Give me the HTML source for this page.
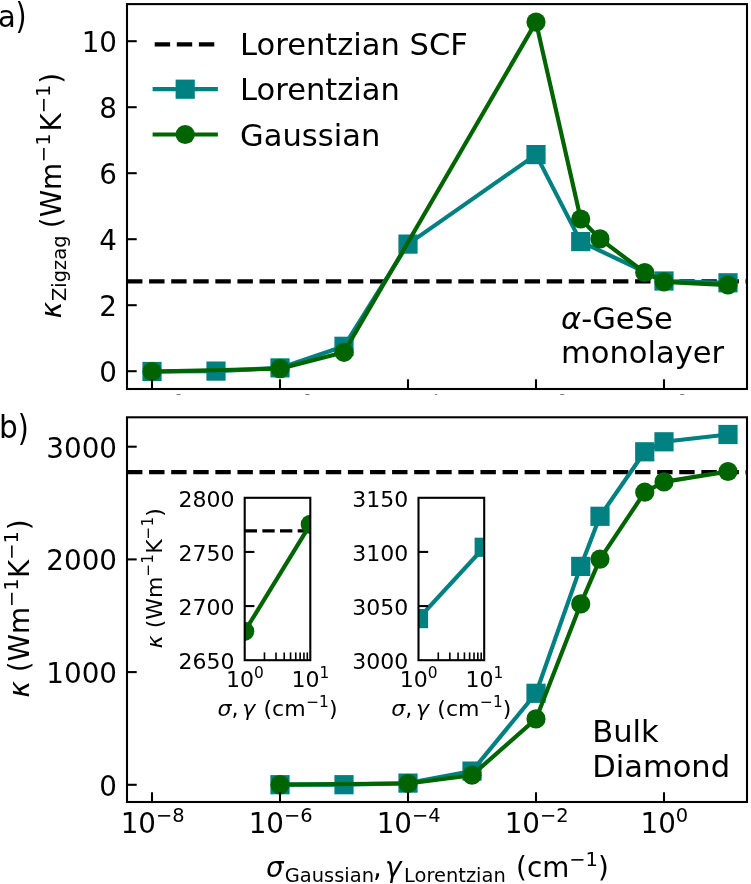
<!DOCTYPE html>
<html><head><meta charset="utf-8"><title>Thermal conductivity vs smearing</title>
<style>html,body{margin:0;padding:0;background:#fff}svg{display:block}</style></head>
<body>
<svg width="751" height="884" viewBox="0 0 751 884" font-family="'DejaVu Sans', 'Liberation Sans', sans-serif" fill="#000">
<rect width="751" height="884" fill="#fff"/>
<defs>
<clipPath id="c1"><rect x="127.0" y="4.1" width="620.0" height="384.9"/></clipPath>
<clipPath id="c2"><rect x="127.0" y="417.3" width="620.0" height="384.7"/></clipPath>
</defs>
<rect x="176.6" y="394" width="4" height="1" fill="#777"/>
<rect x="305.4" y="394" width="4" height="1" fill="#777"/>
<rect x="435.2" y="394" width="2" height="1" fill="#777"/>
<rect x="560.2" y="394" width="4" height="1" fill="#777"/>
<rect x="680.2" y="394" width="4" height="1" fill="#777"/>
<g clip-path="url(#c1)">
<line x1="127.0" y1="281.3" x2="747.0" y2="281.3" stroke="#000" stroke-width="4.17" stroke-dasharray="15.42 6.67" />
<polyline points="152.00,371.50 216.00,371.10 280.00,367.90 344.00,346.30 408.00,244.10 536.00,154.60 580.73,241.60 664.00,281.00 728.00,282.80" fill="none" stroke="#008080" stroke-width="4.17" stroke-linejoin="round" stroke-linecap="square" />
<rect x="142.40" y="361.90" width="19.20" height="19.20" fill="#008080"/>
<rect x="206.40" y="361.50" width="19.20" height="19.20" fill="#008080"/>
<rect x="270.40" y="358.30" width="19.20" height="19.20" fill="#008080"/>
<rect x="334.40" y="336.70" width="19.20" height="19.20" fill="#008080"/>
<rect x="398.40" y="234.50" width="19.20" height="19.20" fill="#008080"/>
<rect x="526.40" y="145.00" width="19.20" height="19.20" fill="#008080"/>
<rect x="571.13" y="232.00" width="19.20" height="19.20" fill="#008080"/>
<rect x="654.40" y="271.40" width="19.20" height="19.20" fill="#008080"/>
<rect x="718.40" y="273.20" width="19.20" height="19.20" fill="#008080"/>
<polyline points="152.00,371.50 280.00,368.70 344.00,352.30 536.00,22.10 580.73,219.00 600.00,238.90 644.73,272.50 664.00,281.80 728.00,285.00" fill="none" stroke="#006400" stroke-width="4.17" stroke-linejoin="round" stroke-linecap="square" />
<circle cx="152.00" cy="371.50" r="9.60" fill="#006400"/>
<circle cx="280.00" cy="368.70" r="9.60" fill="#006400"/>
<circle cx="344.00" cy="352.30" r="9.60" fill="#006400"/>
<circle cx="536.00" cy="22.10" r="9.60" fill="#006400"/>
<circle cx="580.73" cy="219.00" r="9.60" fill="#006400"/>
<circle cx="600.00" cy="238.90" r="9.60" fill="#006400"/>
<circle cx="644.73" cy="272.50" r="9.60" fill="#006400"/>
<circle cx="664.00" cy="281.80" r="9.60" fill="#006400"/>
<circle cx="728.00" cy="285.00" r="9.60" fill="#006400"/>
</g>
<line x1="152.0" y1="389.0" x2="152.0" y2="379.3" stroke="#000" stroke-width="2.08"/>
<line x1="280.0" y1="389.0" x2="280.0" y2="379.3" stroke="#000" stroke-width="2.08"/>
<line x1="408.0" y1="389.0" x2="408.0" y2="379.3" stroke="#000" stroke-width="2.08"/>
<line x1="536.0" y1="389.0" x2="536.0" y2="379.3" stroke="#000" stroke-width="2.08"/>
<line x1="664.0" y1="389.0" x2="664.0" y2="379.3" stroke="#000" stroke-width="2.08"/>
<line x1="127.0" y1="371.20" x2="136.7" y2="371.20" stroke="#000" stroke-width="2.08"/>
<text x="117" y="382.20" font-size="27.78" text-anchor="end">0</text>
<line x1="127.0" y1="305.20" x2="136.7" y2="305.20" stroke="#000" stroke-width="2.08"/>
<text x="117" y="316.20" font-size="27.78" text-anchor="end">2</text>
<line x1="127.0" y1="239.20" x2="136.7" y2="239.20" stroke="#000" stroke-width="2.08"/>
<text x="117" y="250.20" font-size="27.78" text-anchor="end">4</text>
<line x1="127.0" y1="173.20" x2="136.7" y2="173.20" stroke="#000" stroke-width="2.08"/>
<text x="117" y="184.20" font-size="27.78" text-anchor="end">6</text>
<line x1="127.0" y1="107.20" x2="136.7" y2="107.20" stroke="#000" stroke-width="2.08"/>
<text x="117" y="118.20" font-size="27.78" text-anchor="end">8</text>
<line x1="127.0" y1="41.20" x2="136.7" y2="41.20" stroke="#000" stroke-width="2.08"/>
<text x="117" y="52.20" font-size="27.78" text-anchor="end">10</text>
<rect x="127.0" y="4.1" width="620.0" height="384.9" fill="none" stroke="#000" stroke-width="2.08"/>
<line x1="154.7" y1="44.3" x2="215.8" y2="44.3" stroke="#000" stroke-width="4.17" stroke-dasharray="15.42 6.67"/>
<line x1="154.7" y1="89.2" x2="215.8" y2="89.2" stroke="#008080" stroke-width="4.17" stroke-linecap="square"/>
<rect x="175.60" y="79.60" width="19.20" height="19.20" fill="#008080"/>
<line x1="154.7" y1="134.5" x2="215.8" y2="134.5" stroke="#006400" stroke-width="4.17" stroke-linecap="square"/>
<circle cx="185.20" cy="134.50" r="9.60" fill="#006400"/>
<text x="240.1" y="55.3" font-size="30.56">Lorentzian SCF</text>
<text x="240.1" y="100.3" font-size="30.56">Lorentzian</text>
<text x="240.1" y="145.6" font-size="30.56">Gaussian</text>
<text x="561" y="328.6" font-size="30.56"><tspan font-style="italic">α</tspan>-GeSe</text>
<text x="561" y="362.8" font-size="30.56">monolayer</text>
<text transform="translate(-2.0,26.8) scale(0.95,1)" font-size="30.56">a</text>
<text transform="translate(15.6,28.45) scale(0.93,1.155)" font-size="30.56">)</text>
<text transform="translate(-0.9,437.8) scale(0.97,1.04)" font-size="30.56">b</text>
<text transform="translate(17.7,439.9) scale(0.93,1.155)" font-size="30.56">)</text>
<text transform="translate(61.3,318.2) rotate(-90)" font-size="27.78"><tspan font-style="italic">κ</tspan><tspan font-size="19.45" dy="4.5" dx="0.8">Zigzag</tspan><tspan dy="-4.5" dx="-1.5"> (Wm</tspan><tspan font-size="19.45" dy="-11.4" dx="0.7">−1</tspan><tspan dy="11.4" dx="2">K</tspan><tspan font-size="19.45" dy="-11.4">−1</tspan><tspan dy="11.4" dx="0.8">)</tspan></text>
<g clip-path="url(#c2)">
<line x1="127.0" y1="472.2" x2="747.0" y2="472.2" stroke="#000" stroke-width="4.17" stroke-dasharray="15.42 6.67" />
<polyline points="280.00,784.70 344.00,784.70 408.00,783.10 472.00,771.10 536.00,693.30 580.73,566.40 600.00,516.30 644.73,451.80 664.00,441.80 728.00,434.50" fill="none" stroke="#008080" stroke-width="4.17" stroke-linejoin="round" stroke-linecap="square" />
<rect x="270.40" y="775.10" width="19.20" height="19.20" fill="#008080"/>
<rect x="334.40" y="775.10" width="19.20" height="19.20" fill="#008080"/>
<rect x="398.40" y="773.50" width="19.20" height="19.20" fill="#008080"/>
<rect x="462.40" y="761.50" width="19.20" height="19.20" fill="#008080"/>
<rect x="526.40" y="683.70" width="19.20" height="19.20" fill="#008080"/>
<rect x="571.13" y="556.80" width="19.20" height="19.20" fill="#008080"/>
<rect x="590.40" y="506.70" width="19.20" height="19.20" fill="#008080"/>
<rect x="635.13" y="442.20" width="19.20" height="19.20" fill="#008080"/>
<rect x="654.40" y="432.20" width="19.20" height="19.20" fill="#008080"/>
<rect x="718.40" y="424.90" width="19.20" height="19.20" fill="#008080"/>
<polyline points="280.00,784.70 408.00,783.50 472.00,775.20 536.00,718.90 580.73,603.90 600.00,559.10 644.73,492.20 664.00,481.90 728.00,471.50" fill="none" stroke="#006400" stroke-width="4.17" stroke-linejoin="round" stroke-linecap="square" />
<circle cx="280.00" cy="784.70" r="9.60" fill="#006400"/>
<circle cx="408.00" cy="783.50" r="9.60" fill="#006400"/>
<circle cx="472.00" cy="775.20" r="9.60" fill="#006400"/>
<circle cx="536.00" cy="718.90" r="9.60" fill="#006400"/>
<circle cx="580.73" cy="603.90" r="9.60" fill="#006400"/>
<circle cx="600.00" cy="559.10" r="9.60" fill="#006400"/>
<circle cx="644.73" cy="492.20" r="9.60" fill="#006400"/>
<circle cx="664.00" cy="481.90" r="9.60" fill="#006400"/>
<circle cx="728.00" cy="471.50" r="9.60" fill="#006400"/>
</g>
<line x1="152.0" y1="802.0" x2="152.0" y2="792.3" stroke="#000" stroke-width="2.08"/>
<text x="120.70" y="833" font-size="27.78">10<tspan font-size="19.45" dy="-11.5">−8</tspan></text>
<line x1="280.0" y1="802.0" x2="280.0" y2="792.3" stroke="#000" stroke-width="2.08"/>
<text x="248.70" y="833" font-size="27.78">10<tspan font-size="19.45" dy="-11.5">−6</tspan></text>
<line x1="408.0" y1="802.0" x2="408.0" y2="792.3" stroke="#000" stroke-width="2.08"/>
<text x="376.70" y="833" font-size="27.78">10<tspan font-size="19.45" dy="-11.5">−4</tspan></text>
<line x1="536.0" y1="802.0" x2="536.0" y2="792.3" stroke="#000" stroke-width="2.08"/>
<text x="504.70" y="833" font-size="27.78">10<tspan font-size="19.45" dy="-11.5">−2</tspan></text>
<line x1="664.0" y1="802.0" x2="664.0" y2="792.3" stroke="#000" stroke-width="2.08"/>
<text x="640.50" y="833" font-size="27.78">10<tspan font-size="19.45" dy="-11.5">0</tspan></text>
<line x1="127.0" y1="784.80" x2="136.7" y2="784.80" stroke="#000" stroke-width="2.08"/>
<text x="117" y="795.80" font-size="27.78" text-anchor="end">0</text>
<line x1="127.0" y1="672.10" x2="136.7" y2="672.10" stroke="#000" stroke-width="2.08"/>
<text x="117" y="683.10" font-size="27.78" text-anchor="end">1000</text>
<line x1="127.0" y1="559.40" x2="136.7" y2="559.40" stroke="#000" stroke-width="2.08"/>
<text x="117" y="570.40" font-size="27.78" text-anchor="end">2000</text>
<line x1="127.0" y1="446.70" x2="136.7" y2="446.70" stroke="#000" stroke-width="2.08"/>
<text x="117" y="457.70" font-size="27.78" text-anchor="end">3000</text>
<rect x="127.0" y="417.3" width="620.0" height="384.7" fill="none" stroke="#000" stroke-width="2.08"/>
<text x="592.2" y="741.7" font-size="30.56">Bulk</text>
<text x="592.2" y="776.7" font-size="30.56">Diamond</text>
<text transform="translate(29.4,697.5) rotate(-90)" font-size="27.78"><tspan font-style="italic">κ</tspan> (Wm<tspan font-size="19.45" dy="-11.4">−1</tspan><tspan dy="11.4" dx="0.3">K</tspan><tspan font-size="19.45" dy="-11.4">−1</tspan><tspan dy="11.4" dx="1">)</tspan></text>
<text x="266" y="877" font-size="27.78"><tspan font-style="italic">σ</tspan><tspan font-size="19.45" dy="4.5" dx="1.2">Gaussian</tspan><tspan dy="-4.5" dx="-1">, </tspan><tspan font-style="italic" dx="-5.7">γ</tspan><tspan font-size="19.45" dy="4.5" dx="2.7">Lorentzian</tspan><tspan dy="-4.5" dx="1.5"> (cm</tspan><tspan font-size="19.45" dy="-11.4">−1</tspan><tspan dy="11.4">)</tspan></text>
<defs><clipPath id="ci1"><rect x="244.7" y="497.8" width="65.60000000000002" height="162.40000000000003"/></clipPath></defs>
<g clip-path="url(#ci1)">
<line x1="244.7" y1="530.9" x2="310.3" y2="530.9" stroke="#000" stroke-width="3.32" stroke-dasharray="12.33 5.33"/>
<polyline points="244.70,631.30 310.30,524.40" fill="none" stroke="#006400" stroke-width="4.17" stroke-linejoin="round" stroke-linecap="square" />
<circle cx="244.70" cy="631.30" r="9.60" fill="#006400"/>
<circle cx="310.30" cy="524.40" r="9.60" fill="#006400"/>
</g>
<text x="234.50" y="669.20" font-size="22.0" text-anchor="end">2650</text>
<line x1="244.7" y1="606.07" x2="254.39999999999998" y2="606.07" stroke="#000" stroke-width="2.08"/>
<text x="234.50" y="615.07" font-size="22.0" text-anchor="end">2700</text>
<line x1="244.7" y1="551.93" x2="254.39999999999998" y2="551.93" stroke="#000" stroke-width="2.08"/>
<text x="234.50" y="560.93" font-size="22.0" text-anchor="end">2750</text>
<text x="234.50" y="506.80" font-size="22.0" text-anchor="end">2800</text>
<line x1="264.45" y1="660.2" x2="264.45" y2="652.4000000000001" stroke="#000" stroke-width="1.6"/>
<line x1="276.00" y1="660.2" x2="276.00" y2="652.4000000000001" stroke="#000" stroke-width="1.6"/>
<line x1="284.20" y1="660.2" x2="284.20" y2="652.4000000000001" stroke="#000" stroke-width="1.6"/>
<line x1="290.55" y1="660.2" x2="290.55" y2="652.4000000000001" stroke="#000" stroke-width="1.6"/>
<line x1="295.75" y1="660.2" x2="295.75" y2="652.4000000000001" stroke="#000" stroke-width="1.6"/>
<line x1="300.14" y1="660.2" x2="300.14" y2="652.4000000000001" stroke="#000" stroke-width="1.6"/>
<line x1="303.94" y1="660.2" x2="303.94" y2="652.4000000000001" stroke="#000" stroke-width="1.6"/>
<line x1="307.30" y1="660.2" x2="307.30" y2="652.4000000000001" stroke="#000" stroke-width="1.6"/>
<rect x="244.7" y="497.8" width="65.60000000000002" height="162.40000000000003" fill="none" stroke="#000" stroke-width="2.08"/>
<text x="225.90" y="686.7" font-size="22.0">10<tspan font-size="15.40" dy="-9.2">0</tspan></text>
<text x="291.50" y="686.7" font-size="22.0">10<tspan font-size="15.40" dy="-9.2">1</tspan></text>
<text x="277.50" y="716.2" font-size="22.0" text-anchor="middle"><tspan font-style="italic">σ</tspan>, <tspan font-style="italic" dx="-3.2">γ</tspan><tspan dx="1.2"> (cm</tspan><tspan font-size="15.40" dy="-9.2" dx="0.6">−1</tspan><tspan dy="9.2">)</tspan></text>
<text transform="translate(162.30,578.20) rotate(-90)" font-size="22.0" text-anchor="middle"><tspan font-style="italic">κ</tspan> (Wm<tspan font-size="15.40" dy="-9.2">−1</tspan><tspan dy="9.2">K</tspan><tspan font-size="15.40" dy="-9.2">−1</tspan><tspan dy="9.2">)</tspan></text>
<defs><clipPath id="ci2"><rect x="418.5" y="497.8" width="65.69999999999999" height="162.40000000000003"/></clipPath></defs>
<g clip-path="url(#ci2)">
<polyline points="418.50,618.60 484.20,547.30" fill="none" stroke="#008080" stroke-width="4.17" stroke-linejoin="round" stroke-linecap="square" />
<rect x="408.90" y="609.00" width="19.20" height="19.20" fill="#008080"/>
<rect x="474.60" y="537.70" width="19.20" height="19.20" fill="#008080"/>
</g>
<text x="408.30" y="669.20" font-size="22.0" text-anchor="end">3000</text>
<line x1="418.5" y1="606.07" x2="428.2" y2="606.07" stroke="#000" stroke-width="2.08"/>
<text x="408.30" y="615.07" font-size="22.0" text-anchor="end">3050</text>
<line x1="418.5" y1="551.93" x2="428.2" y2="551.93" stroke="#000" stroke-width="2.08"/>
<text x="408.30" y="560.93" font-size="22.0" text-anchor="end">3100</text>
<text x="408.30" y="506.80" font-size="22.0" text-anchor="end">3150</text>
<line x1="438.28" y1="660.2" x2="438.28" y2="652.4000000000001" stroke="#000" stroke-width="1.6"/>
<line x1="449.85" y1="660.2" x2="449.85" y2="652.4000000000001" stroke="#000" stroke-width="1.6"/>
<line x1="458.06" y1="660.2" x2="458.06" y2="652.4000000000001" stroke="#000" stroke-width="1.6"/>
<line x1="464.42" y1="660.2" x2="464.42" y2="652.4000000000001" stroke="#000" stroke-width="1.6"/>
<line x1="469.62" y1="660.2" x2="469.62" y2="652.4000000000001" stroke="#000" stroke-width="1.6"/>
<line x1="474.02" y1="660.2" x2="474.02" y2="652.4000000000001" stroke="#000" stroke-width="1.6"/>
<line x1="477.83" y1="660.2" x2="477.83" y2="652.4000000000001" stroke="#000" stroke-width="1.6"/>
<line x1="481.19" y1="660.2" x2="481.19" y2="652.4000000000001" stroke="#000" stroke-width="1.6"/>
<rect x="418.5" y="497.8" width="65.69999999999999" height="162.40000000000003" fill="none" stroke="#000" stroke-width="2.08"/>
<text x="399.70" y="686.7" font-size="22.0">10<tspan font-size="15.40" dy="-9.2">0</tspan></text>
<text x="465.40" y="686.7" font-size="22.0">10<tspan font-size="15.40" dy="-9.2">1</tspan></text>
<text x="451.35" y="716.2" font-size="22.0" text-anchor="middle"><tspan font-style="italic">σ</tspan>, <tspan font-style="italic" dx="-3.2">γ</tspan><tspan dx="1.2"> (cm</tspan><tspan font-size="15.40" dy="-9.2" dx="0.6">−1</tspan><tspan dy="9.2">)</tspan></text>
</svg>
</body></html>
